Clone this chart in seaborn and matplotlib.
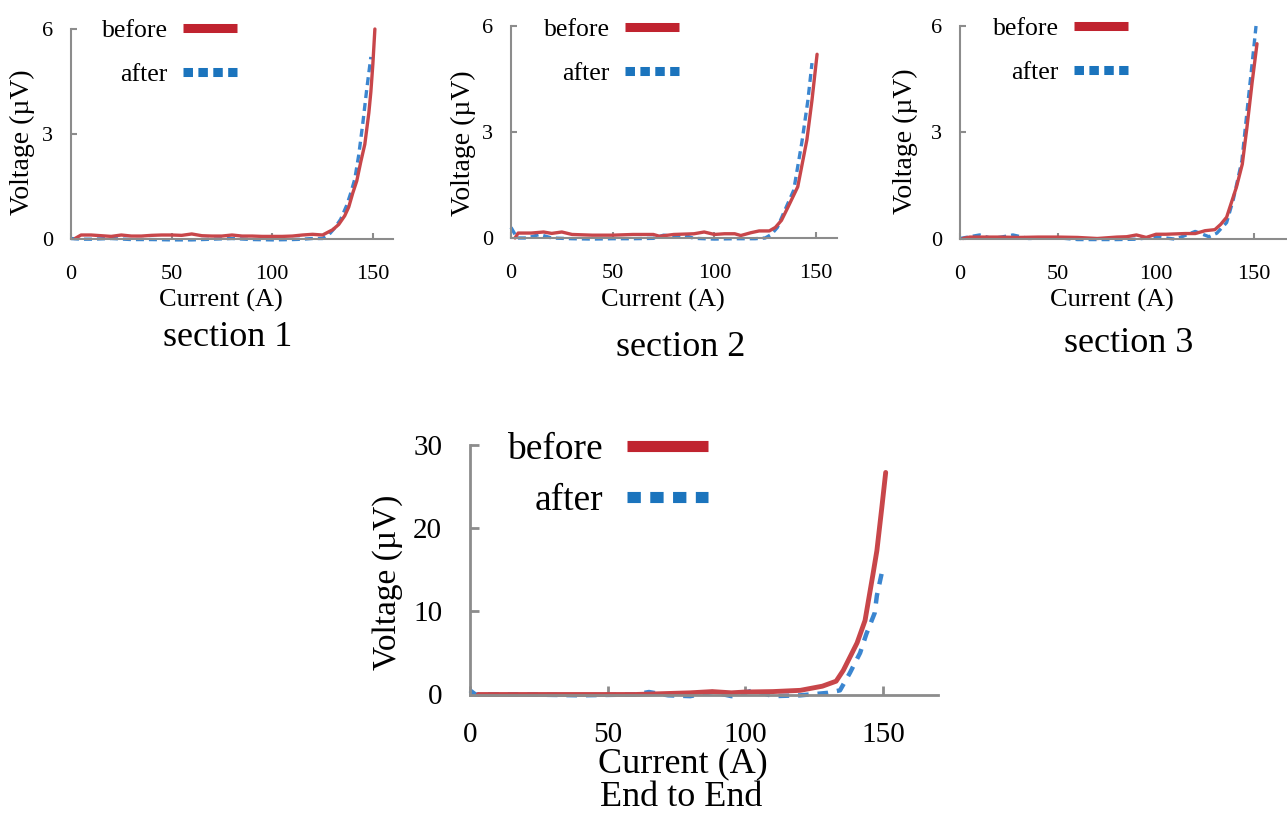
import numpy as np
import pandas as pd
import matplotlib
matplotlib.use("Agg")
import matplotlib.pyplot as plt
from matplotlib.lines import Line2D
import seaborn as sns

# ---- measured V-I curves (current in A, voltage in uV) ----
s1_before_I = [2, 5, 10, 15, 20, 25, 30, 35, 40, 45, 50, 55, 60, 65, 70, 75, 80, 85, 90, 95,
               100, 105, 110, 115, 120, 125, 130, 133, 136, 138, 140, 142, 144, 146, 148, 149, 150, 151]
s1_before_V = [0.0, 0.1, 0.1, 0.08, 0.06, 0.1, 0.07, 0.07, 0.09, 0.1, 0.1, 0.09, 0.13, 0.08, 0.07, 0.07,
               0.1, 0.07, 0.07, 0.06, 0.06, 0.06, 0.07, 0.1, 0.12, 0.1, 0.25, 0.4, 0.65, 0.9, 1.3, 1.65,
               2.2, 2.7, 3.6, 4.2, 5.0, 6.0]
s1_after_I = [0, 5, 10, 20, 30, 40, 50, 60, 70, 80, 90, 100, 110, 115, 120, 125, 128, 131, 134, 137,
              139, 141, 143, 145, 147, 149]
s1_after_V = [0.0, -0.02, -0.02, 0.0, -0.03, -0.03, -0.04, -0.04, -0.02, 0.0, -0.03, -0.04, -0.03,
              -0.02, 0.0, 0.0, 0.1, 0.3, 0.55, 0.95, 1.3, 1.7, 2.4, 3.3, 4.3, 5.2]

s2_before_I = [2, 3.5, 10, 16, 20, 25, 30, 40, 50, 60, 70, 73, 80, 90, 95, 100, 105, 110, 113, 118,
               122, 127, 130, 133, 136, 141, 145.5, 148, 150.5]
s2_before_V = [0.0, 0.14, 0.14, 0.17, 0.13, 0.17, 0.1, 0.08, 0.08, 0.1, 0.1, 0.05, 0.1, 0.12, 0.17,
               0.1, 0.12, 0.12, 0.07, 0.15, 0.2, 0.2, 0.3, 0.5, 0.85, 1.45, 2.78, 3.9, 5.2]
s2_after_I = [0, 3, 8, 14, 20, 30, 40, 50, 60, 70, 75, 80, 85, 90, 100, 110, 120, 125, 128, 131,
              134, 139, 143, 146, 148]
s2_after_V = [0.3, 0.0, 0.0, 0.1, 0.0, -0.02, -0.03, -0.02, -0.02, -0.01, 0.08, 0.05, 0.08, -0.01,
              -0.03, -0.02, -0.02, 0.0, 0.1, 0.3, 0.7, 1.35, 2.7, 3.9, 4.95]

s3_before_I = [1.5, 5, 10, 20, 30, 40, 50, 60, 70, 80, 85, 90, 95, 100, 105, 110, 115, 120, 125,
               130, 133, 136, 141, 144, 146.4, 149, 151.5]
s3_before_V = [0.0, 0.04, 0.04, 0.04, 0.03, 0.04, 0.04, 0.03, 0.0, 0.04, 0.05, 0.1, 0.03, 0.12,
               0.12, 0.13, 0.14, 0.14, 0.22, 0.25, 0.4, 0.6, 1.45, 2.1, 3.15, 4.4, 5.5]
s3_after_I = [0, 5, 10, 15, 20, 27, 35, 50, 60, 70, 80, 90, 100, 110, 120, 127, 131, 136, 139.4,
              143.8, 147, 149.7, 151]
s3_after_V = [0.0, 0.05, 0.1, 0.02, 0.03, 0.1, 0.0, 0.02, -0.03, -0.03, -0.03, -0.02, 0.05, -0.02,
              0.2, 0.05, 0.15, 0.45, 1.1, 2.2, 3.9, 5.3, 6.0]

e2e_before_I = [3, 20, 40, 60, 65, 70, 80, 88, 95, 100, 110, 120, 128, 133, 135.6, 140.6, 143.5,
                146.4, 147.8, 149.6, 151]
e2e_before_V = [0.0, 0.0, 0.0, 0.0, 0.05, 0.1, 0.2, 0.35, 0.2, 0.3, 0.35, 0.5, 1.0, 1.6, 2.9, 6.2,
                8.9, 14.5, 17.3, 22.5, 26.7]
e2e_after_I = [0, 2, 20, 40, 60, 65, 72, 80, 88, 95, 103, 110, 120, 130, 134.4, 138, 141.7, 144,
               147, 147.8, 149.5]
e2e_after_V = [0.5, 0.0, 0.0, -0.1, 0.0, 0.3, -0.1, -0.2, 0.3, -0.2, 0.5, -0.2, -0.1, 0.2, 0.5,
               2.6, 5.0, 7.3, 9.8, 11.9, 14.5]

captions = ["section 1", "section 2", "section 3", "End to End"]
series_names = ["before", "after"]
small_yticks = [0, 3, 6]
big_yticks = [0, 10, 20, 30]
xticks = [0, 50, 100, 150]

# ---- styling ----
W, H, DPI = 1287, 814, 100
RED_LINE, BLUE_LINE = "#c8464a", "#3b86d0"
RED_KEY, BLUE_KEY = "#c0232f", "#1b74bd"
AXIS_GRAY = "#8c8c8c"

sns.set_theme(style="white")
plt.rcParams["font.family"] = ["Liberation Serif", "DejaVu Serif"]
plt.rcParams["text.color"] = "black"
plt.rcParams["axes.labelcolor"] = "black"
plt.rcParams["xtick.labelcolor"] = "black"
plt.rcParams["ytick.labelcolor"] = "black"

fig = plt.figure(figsize=(W / DPI, H / DPI), dpi=DPI)
fig.patch.set_facecolor("white")


def px_axes(left, right, top, bottom):
    """Create an axes from a pixel box (origin top-left)."""
    return fig.add_axes([left / W, 1 - bottom / H, (right - left) / W, (bottom - top) / H])


def fig_xy(px, py):
    return px / W, 1 - py / H


def style_axes(ax, xmax, ymax, yticks, tick_fs, ypad, xpad, spine_w, tick_len):
    ax.set_xlim(0, xmax)
    ax.set_ylim(0, ymax)
    ax.set_xticks(xticks)
    ax.set_yticks(yticks)
    ax.set_facecolor("white")
    for side in ("top", "right"):
        ax.spines[side].set_visible(False)
    for side in ("left", "bottom"):
        ax.spines[side].set_color(AXIS_GRAY)
        ax.spines[side].set_linewidth(spine_w)
    ax.tick_params(axis="both", direction="in", color=AXIS_GRAY, width=spine_w,
                   length=tick_len, labelsize=tick_fs, labelcolor="black")
    ax.tick_params(axis="y", pad=ypad, left=True)
    ax.tick_params(axis="x", pad=xpad, bottom=True)
    ax.grid(False)


def draw_series(ax, I_b, V_b, I_a, V_a, lw_b, lw_a, dash):
    df_b = pd.DataFrame({"Current": I_b, "Voltage": V_b})
    df_a = pd.DataFrame({"Current": I_a, "Voltage": V_a})
    sns.lineplot(data=df_a, x="Current", y="Voltage", ax=ax, color=BLUE_LINE, linewidth=lw_a,
                 linestyle=(0, dash), sort=False, estimator=None, clip_on=False,
                 solid_capstyle="round", dash_capstyle="butt")
    sns.lineplot(data=df_b, x="Current", y="Voltage", ax=ax, color=RED_LINE, linewidth=lw_b,
                 sort=False, estimator=None, clip_on=False, solid_capstyle="round")


def add_key(ax, anchor_px, fs, key_lw, key_dash, handlelen, textpad, spacing):
    handles = [Line2D([], [], color=RED_KEY, lw=key_lw, solid_capstyle="butt"),
               Line2D([], [], color=BLUE_KEY, lw=key_lw, linestyle=(0, key_dash),
                      dash_capstyle="butt")]
    ax.legend(handles, series_names, loc="center right",
              bbox_to_anchor=fig_xy(*anchor_px), bbox_transform=fig.transFigure,
              markerfirst=False, frameon=False, fontsize=fs, handlelength=handlelen,
              handletextpad=textpad, labelspacing=spacing, borderpad=0, borderaxespad=0,
              labelcolor="black")


def set_labels(ax, xl_px, yl_px, xfs, yfs):
    ax.set_xlabel("Current (A)", fontsize=xfs, va="center", ha="center", color="black")
    ax.set_ylabel("Voltage (\u00b5V)", fontsize=yfs, va="center", ha="center", color="black")
    ax.xaxis.set_label_coords(*fig_xy(*xl_px), transform=fig.transFigure)
    ax.yaxis.set_label_coords(*fig_xy(*yl_px), transform=fig.transFigure)


# ---- three section panels ----
small_panels = [
    dict(box=(71, 393, 29, 238.5), xmax=160, data=(s1_before_I, s1_before_V, s1_after_I, s1_after_V),
         key=(237, 52.5), xl=(221, 300), yl=(22, 142), cap=(228, 338)),
    dict(box=(511, 837, 26, 238), xmax=160.3, data=(s2_before_I, s2_before_V, s2_after_I, s2_after_V),
         key=(679, 51.5), xl=(663, 300), yl=(463, 143), cap=(681, 348)),
    dict(box=(960, 1287, 26, 238.5), xmax=166.8, data=(s3_before_I, s3_before_V, s3_after_I, s3_after_V),
         key=(1128, 50.5), xl=(1112, 300), yl=(905, 141), cap=(1129, 343)),
]

for i, p in enumerate(small_panels):
    ax = px_axes(*p["box"])
    draw_series(ax, *p["data"], lw_b=2.4, lw_a=2.4, dash=(2.4, 1.5))
    style_axes(ax, p["xmax"], 6, small_yticks, tick_fs=16, ypad=13, xpad=19,
               spine_w=1.5, tick_len=4.5)
    add_key(ax, p["key"], fs=18.5, key_lw=6.5, key_dash=(1.05, 0.6), handlelen=2.1,
            textpad=0.6, spacing=0.82)
    set_labels(ax, p["xl"], p["yl"], xfs=19, yfs=20)
    fig.text(*fig_xy(*p["cap"]), captions[i], fontsize=26, ha="center", va="center")

# ---- end-to-end panel ----
ax4 = px_axes(470, 938, 445, 694.5)
draw_series(ax4, e2e_before_I, e2e_before_V, e2e_after_I, e2e_after_V, lw_b=3.5, lw_a=3.2,
            dash=(2.4, 2.0))
style_axes(ax4, 170, 30, big_yticks, tick_fs=21, ypad=20, xpad=20, spine_w=2, tick_len=6.5)
add_key(ax4, (708, 475), fs=27, key_lw=8, key_dash=(1.2, 0.85), handlelen=2.15,
        textpad=0.65, spacing=0.44)
set_labels(ax4, (683, 764), (388, 582), xfs=26, yfs=24)
fig.text(*fig_xy(681, 797.5), captions[3], fontsize=26, ha="center", va="center")

fig.savefig("out.png", dpi=DPI, facecolor="white")
